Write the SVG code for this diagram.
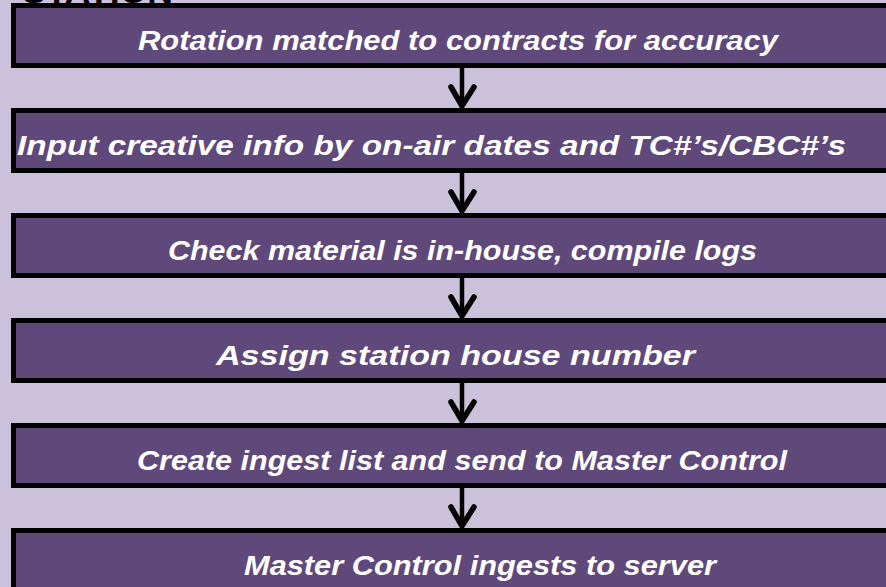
<svg xmlns="http://www.w3.org/2000/svg" width="886" height="587" viewBox="0 0 886 587">
<style>
.box{fill:#5F497A;stroke:#000;stroke-width:5}
.lbl{font-family:"Liberation Sans",Arial,sans-serif;font-weight:bold;font-style:italic;font-size:27px;fill:#fff}
.title{font-family:"Liberation Sans",Arial,sans-serif;font-weight:bold;font-size:34px;fill:#000}
.ln{stroke:#000;stroke-width:4.5;fill:none}
.hd{stroke:#000;stroke-width:5.5;fill:none;stroke-linecap:round;stroke-linejoin:miter}
</style>
<rect x="0" y="0" width="886" height="587" fill="#CCC1DA"/>
<text class="title" x="22" y="3" textLength="151" lengthAdjust="spacingAndGlyphs">STATION</text>
<g id="connectors">
<g><line class="ln" x1="462" y1="68" x2="462" y2="106"/><polyline class="hd" points="451,87 462,106 474,87"/></g>
<g><line class="ln" x1="462" y1="173" x2="462" y2="211"/><polyline class="hd" points="451,192 462,211 474,192"/></g>
<g><line class="ln" x1="462" y1="278" x2="462" y2="316"/><polyline class="hd" points="451,297 462,316 474,297"/></g>
<g><line class="ln" x1="462" y1="383" x2="462" y2="421"/><polyline class="hd" points="451,402 462,421 474,402"/></g>
<g><line class="ln" x1="462" y1="488" x2="462" y2="526"/><polyline class="hd" points="451,507 462,526 474,507"/></g>
</g>
<g id="n1"><rect class="box" x="13.5" y="5.5" width="900" height="60"/><text class="lbl" x="138" y="50" textLength="640" lengthAdjust="spacingAndGlyphs">Rotation matched to contracts for accuracy</text></g>
<g id="n2"><rect class="box" x="13.5" y="110.5" width="900" height="60"/><text class="lbl" x="17" y="155" textLength="829" lengthAdjust="spacingAndGlyphs">Input creative info by on-air dates and TC#’s/CBC#’s</text></g>
<g id="n3"><rect class="box" x="13.5" y="215.5" width="900" height="60"/><text class="lbl" x="168" y="260" textLength="589" lengthAdjust="spacingAndGlyphs">Check material is in-house, compile logs</text></g>
<g id="n4"><rect class="box" x="13.5" y="320.5" width="900" height="60"/><text class="lbl" x="216" y="365" textLength="479" lengthAdjust="spacingAndGlyphs">Assign station house number</text></g>
<g id="n5"><rect class="box" x="13.5" y="425.5" width="900" height="60"/><text class="lbl" x="137" y="470" textLength="650" lengthAdjust="spacingAndGlyphs">Create ingest list and send to Master Control</text></g>
<g id="n6"><rect class="box" x="13.5" y="530.5" width="900" height="80"/><text class="lbl" x="244" y="575" textLength="472" lengthAdjust="spacingAndGlyphs">Master Control ingests to server</text></g>
</svg>
